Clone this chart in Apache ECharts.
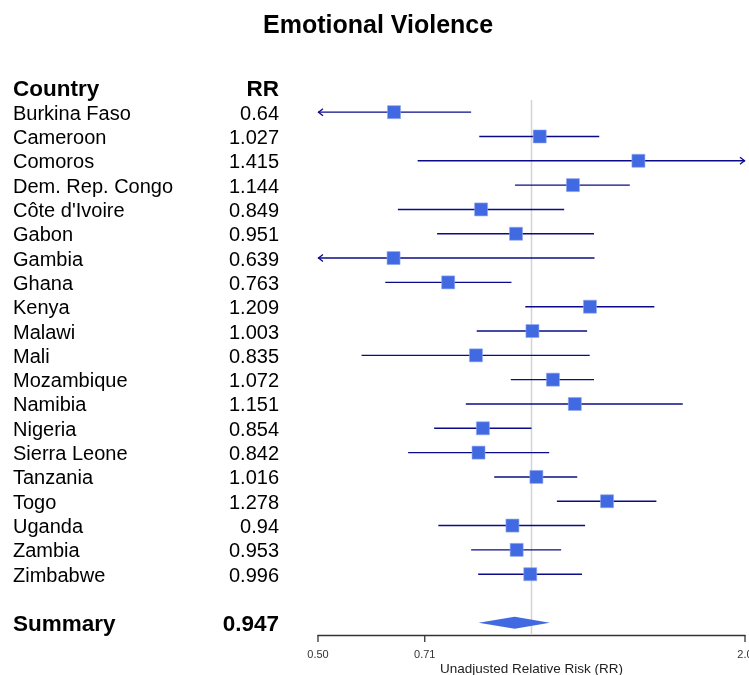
<!DOCTYPE html>
<html>
<head>
<meta charset="utf-8">
<script src="https://cdn.jsdelivr.net/npm/echarts@6/dist/echarts.min.js"></script>
<style>
  html, body { margin: 0; padding: 0; background: #ffffff; }
  #chart { width: 749px; height: 675px; }
</style>
</head>
<body>
<div id="chart"></div>
<script>
// Study-level relative risks with 95% confidence limits
const countries = ['Burkina Faso', 'Cameroon', 'Comoros', 'Dem. Rep. Congo', "Côte d'Ivoire",
  'Gabon', 'Gambia', 'Ghana', 'Kenya', 'Malawi', 'Mali', 'Mozambique', 'Namibia', 'Nigeria',
  'Sierra Leone', 'Tanzania', 'Togo', 'Uganda', 'Zambia', 'Zimbabwe'];
const rrLabels = ['0.64', '1.027', '1.415', '1.144', '0.849', '0.951', '0.639', '0.763', '1.209', '1.003',
  '0.835', '1.072', '1.151', '0.854', '0.842', '1.016', '1.278', '0.94', '0.953', '0.996'];
const rr = [0.64, 1.027, 1.415, 1.144, 0.849, 0.951, 0.639, 0.763, 1.209, 1.003,
  0.835, 1.072, 1.151, 0.854, 0.842, 1.016, 1.278, 0.94, 0.953, 0.996];
const ciLow = [0.498, 0.844, 0.691, 0.948, 0.648, 0.736, 0.333, 0.622, 0.980, 0.837,
  0.576, 0.935, 0.808, 0.729, 0.670, 0.886, 1.086, 0.739, 0.822, 0.841];
const ciHigh = [0.822, 1.246, 2.898, 1.376, 1.112, 1.225, 1.227, 0.937, 1.490, 1.198,
  1.208, 1.225, 1.634, 1.000, 1.059, 1.160, 1.500, 1.190, 1.101, 1.178];

// Pooled estimate
const summaryName = 'Summary';
const summaryLabel = '0.947';
const summaryRR = 0.947;
const summaryLow = 0.842;
const summaryHigh = 1.061;

// Axis range and ticks
const xMin = 0.5;
const xMax = 2.0;
const tickValues = [0.5, 0.7071, 2.0];
const tickLabels = ['0.50', '0.71', '2.0'];

const FONT = "'Liberation Sans', Arial, sans-serif";
const LINE_COLOR = '#0b0b8a';
const BOX_COLOR = '#4169e1';
const summaryRow = countries.length + 1;

const chart = echarts.init(document.getElementById('chart'), null, { renderer: 'canvas' });

// Left-hand table rows: header, studies, summary
const tableRows = [{ name: 'Country', rr: 'RR', row: -1, bold: true }]
  .concat(countries.map((c, i) => ({ name: c, rr: rrLabels[i], row: i, bold: false })))
  .concat([{ name: summaryName, rr: summaryLabel, row: summaryRow, bold: true }]);

function renderStudy(params, api) {
  const est = api.value(0), row = api.value(1), lo = api.value(2), hi = api.value(3);
  const loC = Math.max(lo, xMin), hiC = Math.min(hi, xMax);
  const pL = api.coord([loC, row]);
  const pH = api.coord([hiC, row]);
  const pE = api.coord([est, row]);
  const y = pE[1];
  const children = [{
    type: 'line',
    shape: { x1: pL[0], y1: y, x2: pH[0], y2: y },
    style: { stroke: LINE_COLOR, lineWidth: 1.4 }
  }];
  if (lo < xMin) {
    children.push({
      type: 'polyline',
      shape: { points: [[pL[0] + 5, y - 3.5], [pL[0] + 0.5, y], [pL[0] + 5, y + 3.5]] },
      style: { stroke: LINE_COLOR, lineWidth: 1.3, fill: null }
    });
  }
  if (hi > xMax) {
    children.push({
      type: 'polyline',
      shape: { points: [[pH[0] - 5, y - 3.5], [pH[0] - 0.5, y], [pH[0] - 5, y + 3.5]] },
      style: { stroke: LINE_COLOR, lineWidth: 1.3, fill: null }
    });
  }
  const s = 13;
  children.push({
    type: 'rect',
    shape: { x: pE[0] - s / 2, y: y - s / 2, width: s, height: s },
    style: { fill: BOX_COLOR, stroke: '#8fa8ee', lineWidth: 0.6 }
  });
  return { type: 'group', children };
}

function renderSummary(params, api) {
  const est = api.value(0), row = api.value(1), lo = api.value(2), hi = api.value(3);
  const pL = api.coord([lo, row]);
  const pH = api.coord([hi, row]);
  const pE = api.coord([est, row]);
  const y = pE[1];
  const h = 6;
  return {
    type: 'polygon',
    shape: { points: [[pL[0], y], [pE[0], y - h], [pH[0], y], [pE[0], y + h]] },
    style: { fill: BOX_COLOR }
  };
}

function renderTable(params, api) {
  const r = tableRows[params.dataIndex];
  const y = api.coord([xMin, api.value(1)])[1] + 2;
  const font = r.bold ? 'bold 22.5px ' + FONT : '20px ' + FONT;
  return {
    type: 'group',
    children: [{
      type: 'text',
      style: {
        x: 13, y: y, text: r.name, fill: '#000', align: 'left', verticalAlign: 'middle', font
      }
    }, {
      type: 'text',
      style: {
        x: 279, y: y, text: r.rr, fill: '#000', align: 'right', verticalAlign: 'middle', font
      }
    }]
  };
}

function renderNullLine(params, api) {
  const top = api.coord([1, -0.5]);
  const bottom = api.coord([1, summaryRow + 0.5]);
  return {
    type: 'line',
    shape: { x1: top[0], y1: top[1], x2: bottom[0], y2: bottom[1] },
    style: { stroke: '#d4d4d4', lineWidth: 1.5 }
  };
}

function renderTicks(params, api) {
  const p = api.coord([api.value(0), summaryRow + 0.5]);
  const x = p[0], y = p[1];
  return {
    type: 'group',
    children: [{
      type: 'line',
      shape: { x1: x, y1: y, x2: x, y2: y + 7 },
      style: { stroke: '#333', lineWidth: 1.3 }
    }, {
      type: 'text',
      style: {
        x: x, y: y + 20, text: tickLabels[params.dataIndex], fill: '#333',
        align: 'center', verticalAlign: 'middle', font: '11px ' + FONT
      }
    }]
  };
}

const option = {
  animation: false,
  backgroundColor: '#ffffff',
  title: {
    text: 'Emotional Violence',
    left: 258,
    top: 9,
    textStyle: { fontFamily: FONT, fontSize: 25, fontWeight: 'bold', color: '#000' }
  },
  grid: { left: 318, right: 4, top: 100, bottom: 40, containLabel: false, outerBoundsMode: 'none' },
  xAxis: {
    type: 'log',
    logBase: 2,
    min: xMin,
    max: xMax,
    axisLine: { show: true, onZero: false, lineStyle: { color: '#333', width: 1.3 } },
    axisTick: { show: false },
    axisLabel: { show: false },
    splitLine: { show: false },
    name: 'Unadjusted Relative Risk (RR)',
    nameLocation: 'middle',
    nameGap: 27,
    nameTextStyle: { fontFamily: FONT, fontSize: 13.5, color: '#222' }
  },
  yAxis: {
    type: 'value',
    inverse: true,
    min: -0.5,
    max: summaryRow + 0.5,
    show: false
  },
  series: [
    {
      type: 'custom', name: 'null', clip: false, z: 1,
      renderItem: renderNullLine, data: [[1, 0]]
    },
    {
      type: 'custom', name: 'studies', clip: false, z: 3,
      renderItem: renderStudy,
      data: countries.map((c, i) => [rr[i], i, ciLow[i], ciHigh[i]])
    },
    {
      type: 'custom', name: 'summary', clip: false, z: 3,
      renderItem: renderSummary,
      data: [[summaryRR, summaryRow, summaryLow, summaryHigh]]
    },
    {
      type: 'custom', name: 'table', clip: false, z: 3,
      renderItem: renderTable,
      data: tableRows.map(r => [xMin, r.row])
    },
    {
      type: 'custom', name: 'ticks', clip: false, z: 3,
      renderItem: renderTicks,
      data: tickValues.map(v => [v, summaryRow])
    }
  ]
};

chart.setOption(option);
</script>
</body>
</html>
